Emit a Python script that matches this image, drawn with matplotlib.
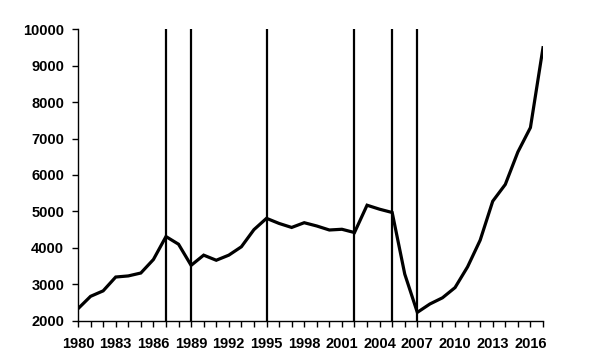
import matplotlib
matplotlib.use("Agg")
import matplotlib.pyplot as plt

years = list(range(1980, 2018))
values = [2330, 2670, 2820, 3200, 3230, 3310, 3680, 4310, 4100, 3520,
          3800, 3660, 3800, 4030, 4500, 4810, 4670, 4560, 4690, 4600,
          4490, 4510, 4420, 5170, 5060, 4970, 3280, 2230, 2460, 2630,
          2910, 3480, 4210, 5280, 5740, 6630, 7300, 9490]
event_years = [1987, 1989, 1995, 2002, 2005, 2007]
tick_years = list(range(1980, 2017, 3))
y_ticks = list(range(2000, 10001, 1000))

plt.rcParams['font.family'] = ['Liberation Sans', 'DejaVu Sans']
plt.rcParams['font.weight'] = 'bold'
plt.rcParams['font.size'] = 10.5

fig = plt.figure(figsize=(6, 3.6), dpi=100)
ax = fig.add_axes([0.13, 0.109, 0.775, 0.81])

for yr in event_years:
    ax.axvline(yr, color="black", linewidth=1.6)
ax.plot(years, values, color="black", linewidth=2.3, solid_joinstyle="miter")

ax.set_xlim(1980, 2017)
ax.set_ylim(2000, 10000)
ax.set_xticks(years, minor=True)
ax.set_xticks(tick_years)
ax.set_yticks(y_ticks)
ax.tick_params(axis="both", which="both", direction="out", length=4, width=1)
ax.tick_params(axis="x", which="major", pad=8)
ax.tick_params(axis="y", pad=6)

for side in ("top", "right"):
    ax.spines[side].set_visible(False)
ax.spines["left"].set_linewidth(1)
ax.spines["bottom"].set_linewidth(1)

fig.savefig("out.png", dpi=100)
